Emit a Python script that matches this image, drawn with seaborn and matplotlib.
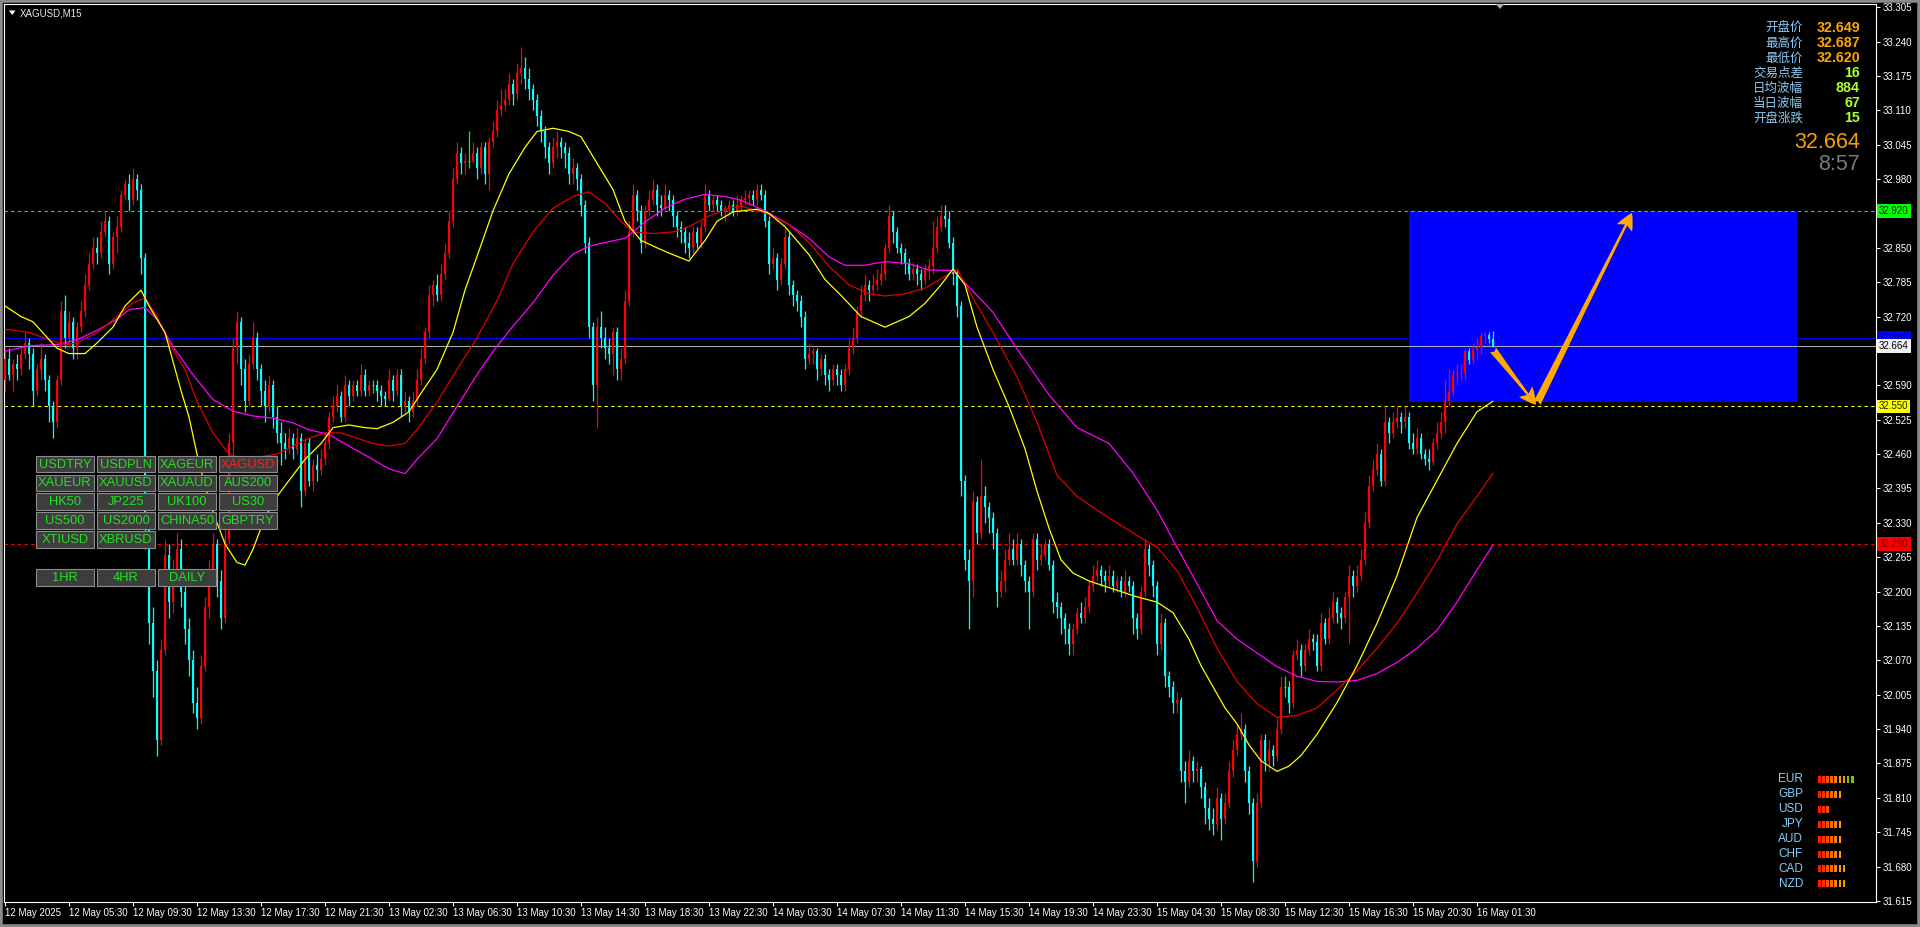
import numpy as np
import matplotlib
matplotlib.use("Agg")
import matplotlib.pyplot as plt
import seaborn as sns
from matplotlib.patches import Rectangle, Polygon
from matplotlib.transforms import blended_transform_factory

# ---------------- price data (XAGUSD, M15) ----------------
first_open = 32.60
closes = [
    32.64, 32.61, 32.63, 32.62, 32.65, 32.67, 32.65, 32.58, 32.62, 32.64,
    32.60, 32.55, 32.52, 32.60, 32.73, 32.68, 32.71, 32.66, 32.70, 32.73,
    32.78, 32.82, 32.85, 32.84, 32.88, 32.90, 32.82, 32.87, 32.89, 32.95,
    32.97, 32.94, 32.98, 32.96, 32.83, 32.32, 32.14, 32.05, 31.92, 32.09,
    32.27, 32.18, 32.24, 32.28, 32.20, 32.13, 32.07, 31.99, 31.96, 32.06,
    32.17, 32.24, 32.29, 32.22, 32.15, 32.30, 32.48, 32.66, 32.71, 32.62,
    32.56, 32.63, 32.68, 32.62, 32.58, 32.55, 32.59, 32.53, 32.50, 32.48,
    32.47, 32.49, 32.47, 32.49, 32.39, 32.48, 32.41, 32.44, 32.43, 32.45,
    32.48, 32.53, 32.55, 32.57, 32.53, 32.59, 32.57, 32.59, 32.58, 32.61,
    32.58, 32.59, 32.59, 32.58, 32.57, 32.565, 32.60, 32.58, 32.61, 32.55,
    32.56, 32.54, 32.56, 32.60, 32.64, 32.69, 32.76, 32.78, 32.76, 32.80,
    32.84, 32.90, 32.98, 33.03, 33.01, 33.015, 33.015, 33.03, 33.00, 33.04,
    32.99, 33.05, 33.07, 33.11, 33.12, 33.13, 33.16, 33.14, 33.18, 33.19,
    33.17, 33.15, 33.13, 33.10, 33.07, 33.04, 33.01, 33.04, 33.05, 33.04,
    33.03, 32.99, 33.00, 32.98, 32.93, 32.86, 32.70, 32.59, 32.70, 32.68,
    32.66, 32.65, 32.69, 32.62, 32.64, 32.75, 32.88, 32.95, 32.92, 32.86,
    32.92, 32.94, 32.96, 32.93, 32.925, 32.95, 32.94, 32.91, 32.89, 32.88,
    32.86, 32.85, 32.88, 32.86, 32.89, 32.95, 32.93, 32.94, 32.93, 32.92,
    32.925, 32.93, 32.92, 32.93, 32.94, 32.945, 32.95, 32.94, 32.96, 32.95,
    32.90, 32.82, 32.83, 32.79, 32.82, 32.87, 32.78, 32.76, 32.75, 32.72,
    32.64, 32.65, 32.655, 32.62, 32.64, 32.61, 32.60, 32.62, 32.61, 32.59,
    32.62, 32.66, 32.68, 32.73, 32.76, 32.78, 32.77, 32.78, 32.79, 32.80,
    32.85, 32.91, 32.88, 32.85, 32.84, 32.82, 32.80, 32.81, 32.80, 32.79,
    32.81, 32.815, 32.85, 32.89, 32.91, 32.905, 32.86, 32.80, 32.74, 32.41,
    32.26, 32.22, 32.37, 32.31, 32.38, 32.36, 32.34, 32.31, 32.20, 32.22,
    32.26, 32.28, 32.26, 32.29, 32.25, 32.22, 32.20, 32.30, 32.26, 32.27,
    32.29, 32.25, 32.18, 32.17, 32.15, 32.13, 32.10, 32.13, 32.16, 32.15,
    32.17, 32.21, 32.23, 32.24, 32.23, 32.22, 32.23, 32.21, 32.22, 32.20,
    32.22, 32.21, 32.15, 32.13, 32.20, 32.28, 32.25, 32.21, 32.10, 32.14,
    32.04, 32.02, 31.99, 31.995, 31.86, 31.84, 31.88, 31.86, 31.865, 31.83,
    31.79, 31.77, 31.76, 31.81, 31.77, 31.80, 31.86, 31.90, 31.93, 31.94,
    31.86, 31.80, 31.69, 31.80, 31.92, 31.88, 31.90, 31.89, 31.94, 32.02,
    32.02, 31.99, 32.08, 32.09, 32.06, 32.09, 32.11, 32.105, 32.06, 32.14,
    32.11, 32.15, 32.18, 32.16, 32.15, 32.19, 32.23, 32.21, 32.23, 32.26,
    32.33, 32.40, 32.43, 32.46, 32.41, 32.52, 32.50, 32.52, 32.53, 32.52,
    32.53, 32.48, 32.47, 32.49, 32.46, 32.45, 32.445, 32.48, 32.50, 32.52,
    32.56, 32.578, 32.61, 32.612, 32.614, 32.655, 32.638, 32.656, 32.663, 32.683,
    32.686, 32.677, 32.664,
]
highs = [
    32.66, 32.66, 32.64, 32.65, 32.66, 32.69, 32.68, 32.66, 32.63, 32.67,
    32.65, 32.61, 32.56, 32.61, 32.75, 32.76, 32.73, 32.72, 32.71, 32.75,
    32.80, 32.84, 32.87, 32.87, 32.90, 32.92, 32.91, 32.88, 32.91, 32.96,
    32.98, 32.99, 33.00, 32.99, 32.97, 32.84, 32.34, 32.17, 32.07, 32.11,
    32.30, 32.29, 32.26, 32.31, 32.30, 32.22, 32.15, 32.09, 32.02, 32.08,
    32.19, 32.26, 32.31, 32.30, 32.24, 32.32, 32.50, 32.68, 32.73, 32.72,
    32.64, 32.65, 32.71, 32.69, 32.63, 32.60, 32.61, 32.60, 32.55, 32.52,
    32.50, 32.51, 32.50, 32.51, 32.50, 32.49, 32.49, 32.45, 32.46, 32.47,
    32.50, 32.54, 32.57, 32.59, 32.58, 32.61, 32.60, 32.60, 32.60, 32.63,
    32.62, 32.60, 32.60, 32.60, 32.59, 32.58, 32.62, 32.61, 32.62, 32.62,
    32.58, 32.57, 32.58, 32.62, 32.66, 32.70, 32.78, 32.79, 32.80, 32.82,
    32.86, 32.92, 33.00, 33.05, 33.04, 33.03, 33.07, 33.05, 33.04, 33.05,
    33.05, 33.06, 33.09, 33.13, 33.15, 33.15, 33.18, 33.17, 33.20, 33.23,
    33.21, 33.19, 33.16, 33.14, 33.11, 33.08, 33.05, 33.06, 33.07, 33.06,
    33.05, 33.04, 33.02, 33.01, 32.99, 32.94, 32.87, 32.71, 32.72, 32.73,
    32.70, 32.68, 32.70, 32.70, 32.66, 32.77, 32.90, 32.97, 32.96, 32.93,
    32.93, 32.96, 32.98, 32.97, 32.95, 32.97, 32.96, 32.95, 32.92, 32.90,
    32.89, 32.88, 32.89, 32.89, 32.90, 32.97, 32.96, 32.95, 32.95, 32.94,
    32.93, 32.94, 32.94, 32.95, 32.95, 32.96, 32.96, 32.96, 32.97, 32.97,
    32.96, 32.91, 32.85, 32.84, 32.83, 32.89, 32.88, 32.79, 32.77, 32.76,
    32.73, 32.67, 32.66, 32.66, 32.65, 32.65, 32.62, 32.63, 32.63, 32.62,
    32.63, 32.68, 32.70, 32.74, 32.78, 32.80, 32.79, 32.80, 32.81, 32.82,
    32.86, 32.93, 32.92, 32.89, 32.86, 32.85, 32.83, 32.82, 32.82, 32.81,
    32.82, 32.83, 32.90, 32.91, 32.93, 32.93, 32.92, 32.87, 32.81, 32.75,
    32.42, 32.28, 32.39, 32.38, 32.45, 32.40, 32.37, 32.35, 32.32, 32.24,
    32.28, 32.31, 32.30, 32.31, 32.30, 32.26, 32.23, 32.31, 32.31, 32.29,
    32.30, 32.30, 32.26, 32.20, 32.18, 32.16, 32.14, 32.14, 32.17, 32.18,
    32.19, 32.22, 32.25, 32.26, 32.25, 32.24, 32.25, 32.24, 32.23, 32.23,
    32.24, 32.23, 32.22, 32.16, 32.21, 32.30, 32.29, 32.26, 32.22, 32.16,
    32.15, 32.05, 32.03, 32.01, 32.00, 31.88, 31.90, 31.89, 31.88, 31.87,
    31.84, 31.81, 31.79, 31.83, 31.82, 31.82, 31.88, 31.92, 31.95, 31.97,
    31.95, 31.87, 31.81, 31.82, 31.93, 31.93, 31.92, 31.91, 31.96, 32.04,
    32.04, 32.03, 32.09, 32.11, 32.10, 32.10, 32.13, 32.12, 32.12, 32.16,
    32.15, 32.17, 32.20, 32.19, 32.17, 32.20, 32.25, 32.24, 32.25, 32.28,
    32.35, 32.42, 32.45, 32.48, 32.47, 32.55, 32.53, 32.54, 32.55, 32.54,
    32.55, 32.54, 32.50, 32.51, 32.50, 32.47, 32.47, 32.49, 32.52, 32.54,
    32.60, 32.62, 32.62, 32.63, 32.63, 32.66, 32.66, 32.67, 32.68, 32.69,
    32.69, 32.69, 32.692,
]
lows = [
    32.58, 32.60, 32.58, 32.60, 32.61, 32.64, 32.62, 32.55, 32.57, 32.60,
    32.58, 32.52, 32.49, 32.51, 32.59, 32.66, 32.66, 32.64, 32.64, 32.69,
    32.72, 32.77, 32.81, 32.82, 32.83, 32.87, 32.80, 32.81, 32.84, 32.88,
    32.94, 32.92, 32.93, 32.94, 32.80, 32.28, 32.10, 32.00, 31.89, 31.91,
    32.08, 32.15, 32.16, 32.22, 32.17, 32.10, 32.04, 31.97, 31.94, 31.95,
    32.05, 32.15, 32.22, 32.19, 32.13, 32.14, 32.29, 32.46, 32.63, 32.59,
    32.54, 32.55, 32.62, 32.60, 32.55, 32.52, 32.54, 32.51, 32.48, 32.44,
    32.45, 32.46, 32.45, 32.46, 32.36, 32.38, 32.40, 32.39, 32.41, 32.42,
    32.44, 32.47, 32.52, 32.54, 32.52, 32.52, 32.55, 32.56, 32.57, 32.57,
    32.57, 32.57, 32.575, 32.56, 32.55, 32.55, 32.56, 32.56, 32.57, 32.53,
    32.54, 32.52, 32.53, 32.55, 32.59, 32.63, 32.68, 32.74, 32.75, 32.75,
    32.79, 32.83, 32.89, 32.97, 32.99, 32.99, 33.00, 33.01, 32.98, 32.99,
    32.97, 32.96, 33.04, 33.06, 33.10, 33.11, 33.12, 33.12, 33.13, 33.16,
    33.15, 33.13, 33.11, 33.08, 33.05, 33.02, 32.99, 33.00, 33.02, 33.02,
    33.00, 32.97, 32.97, 32.96, 32.91, 32.84, 32.68, 32.56, 32.51, 32.66,
    32.64, 32.63, 32.61, 32.60, 32.60, 32.63, 32.74, 32.87, 32.90, 32.84,
    32.85, 32.91, 32.93, 32.91, 32.91, 32.92, 32.92, 32.89, 32.87, 32.86,
    32.84, 32.83, 32.84, 32.85, 32.85, 32.88, 32.92, 32.92, 32.92, 32.91,
    32.90, 32.91, 32.91, 32.91, 32.92, 32.93, 32.93, 32.93, 32.93, 32.94,
    32.89, 32.80, 32.81, 32.77, 32.78, 32.81, 32.76, 32.74, 32.73, 32.70,
    32.62, 32.63, 32.63, 32.60, 32.61, 32.59, 32.58, 32.59, 32.59, 32.58,
    32.58, 32.61, 32.65, 32.67, 32.72, 32.75, 32.75, 32.76, 32.77, 32.78,
    32.79, 32.84, 32.86, 32.84, 32.82, 32.80, 32.79, 32.79, 32.78, 32.77,
    32.78, 32.79, 32.80, 32.84, 32.88, 32.89, 32.85, 32.78, 32.72, 32.38,
    32.24, 32.13, 32.19, 32.29, 32.30, 32.33, 32.31, 32.28, 32.17, 32.19,
    32.20, 32.25, 32.25, 32.25, 32.23, 32.20, 32.13, 32.19, 32.24, 32.25,
    32.26, 32.24, 32.16, 32.15, 32.12, 32.10, 32.08, 32.08, 32.12, 32.14,
    32.14, 32.16, 32.20, 32.22, 32.21, 32.20, 32.21, 32.20, 32.20, 32.19,
    32.19, 32.20, 32.12, 32.11, 32.12, 32.19, 32.23, 32.19, 32.08, 32.09,
    32.02, 32.00, 31.97, 31.97, 31.84, 31.80, 31.83, 31.84, 31.84, 31.81,
    31.76, 31.75, 31.74, 31.75, 31.73, 31.76, 31.79, 31.85, 31.89, 31.92,
    31.84, 31.78, 31.65, 31.68, 31.79, 31.86, 31.86, 31.87, 31.88, 31.93,
    32.00, 31.97, 31.98, 32.07, 32.04, 32.05, 32.08, 32.09, 32.05, 32.05,
    32.10, 32.10, 32.14, 32.14, 32.13, 32.14, 32.10, 32.19, 32.20, 32.22,
    32.25, 32.32, 32.39, 32.42, 32.40, 32.40, 32.48, 32.49, 32.51, 32.50,
    32.51, 32.47, 32.46, 32.46, 32.45, 32.44, 32.43, 32.44, 32.47, 32.49,
    32.50, 32.55, 32.57, 32.59, 32.60, 32.60, 32.63, 32.63, 32.64, 32.65,
    32.67, 32.67, 32.662,
]

# ---------------- moving averages (bar index, value) ----------------
ma_fast_bar = [0, 4, 7, 10, 13, 16, 20, 23, 27, 30, 34, 36, 40, 44, 46, 48, 50, 52, 55, 58,
               60, 62, 65, 68, 72, 75, 79, 82, 86, 90, 93, 97, 101, 104, 108, 112, 115, 119, 122, 126,
               130, 133, 137, 141, 144, 148, 152, 155, 159, 163, 166, 171, 175, 178, 182, 188, 191, 195, 201, 205,
               209, 214, 220, 226, 230, 234, 237, 240, 243, 247, 251, 255, 258, 261, 264, 267, 271, 277, 283, 288,
               292, 296, 299, 302, 305, 308, 311, 314, 318, 321, 324, 328, 333, 338, 343, 348, 353, 358, 363, 368, 372]
ma_fast_val = [32.74, 32.72, 32.71, 32.685, 32.66, 32.65, 32.65, 32.67, 32.70, 32.74,
               32.77, 32.74, 32.69, 32.58, 32.53, 32.46, 32.40, 32.35, 32.29, 32.255,
               32.25, 32.28, 32.34, 32.38, 32.42, 32.45, 32.48, 32.51, 32.515, 32.51,
               32.508, 32.52, 32.54, 32.575, 32.62, 32.69, 32.77, 32.855, 32.92, 32.99,
               33.04, 33.07, 33.076, 33.07, 33.06, 33.01, 32.96, 32.90, 32.864, 32.85,
               32.84, 32.825, 32.864, 32.90, 32.918, 32.923, 32.915, 32.89, 32.837, 32.79,
               32.76, 32.72, 32.70, 32.72, 32.745, 32.78, 32.81, 32.78, 32.70, 32.62,
               32.55, 32.47, 32.39, 32.32, 32.26, 32.235, 32.22, 32.205, 32.19, 32.18,
               32.16, 32.11, 32.06, 32.02, 31.98, 31.95, 31.91, 31.88, 31.86, 31.87,
               31.89, 31.93, 31.99, 32.06, 32.14, 32.23, 32.34, 32.41, 32.48, 32.54, 32.56]
ma_mid_bar = [0, 6, 11, 15, 18, 23, 28, 32, 35, 38, 41, 45, 48, 52, 56, 60, 64, 68, 72, 76,
              80, 84, 88, 92, 96, 100, 103, 108, 113, 118, 123, 127, 132, 137, 142, 146, 150, 154, 157, 162,
              167, 171, 176, 181, 184, 190, 196, 201, 206, 211, 216, 220, 225, 230, 235, 238, 242, 247, 253, 258,
              263, 268, 273, 278, 283, 288, 293, 298, 303, 308, 313, 318, 323, 328, 333, 338, 343, 348, 353, 358,
              363, 368, 372]
ma_mid_val = [32.696, 32.69, 32.676, 32.667, 32.67, 32.69, 32.72, 32.746, 32.755, 32.72,
              32.67, 32.62, 32.56, 32.50, 32.46, 32.45, 32.455, 32.46, 32.475, 32.49,
              32.50, 32.50, 32.49, 32.48, 32.475, 32.48, 32.506, 32.558, 32.62, 32.68,
              32.75, 32.82, 32.88, 32.925, 32.947, 32.956, 32.934, 32.90, 32.88, 32.877,
              32.88, 32.89, 32.91, 32.925, 32.929, 32.916, 32.894, 32.86, 32.815, 32.78,
              32.763, 32.759, 32.763, 32.774, 32.796, 32.81, 32.755, 32.69, 32.606, 32.52,
              32.42, 32.38, 32.354, 32.33, 32.306, 32.284, 32.24, 32.17, 32.093, 32.03,
              31.988, 31.962, 31.966, 31.98, 32.014, 32.05, 32.093, 32.14, 32.197, 32.258,
              32.328, 32.38, 32.424]
ma_slow_bar = [0, 6, 13, 18, 23, 28, 31, 35, 38, 42, 47, 52, 57, 62, 67, 72, 76, 81, 86, 91,
               96, 100, 103, 108, 113, 118, 122, 127, 132, 137, 142, 146, 150, 155, 160, 165, 170, 175, 180, 184,
               190, 196, 201, 206, 210, 215, 220, 226, 231, 237, 242, 247, 253, 261, 268, 276, 282, 288, 293, 298,
               303, 308, 313, 318, 323, 328, 333, 338, 343, 348, 353, 358, 363, 368, 372]
ma_slow_val = [32.654, 32.665, 32.667, 32.676, 32.694, 32.715, 32.733, 32.737, 32.715, 32.663,
               32.61, 32.563, 32.541, 32.532, 32.528, 32.519, 32.506, 32.497, 32.475, 32.454,
               32.432, 32.423, 32.45, 32.489, 32.55, 32.61, 32.654, 32.702, 32.746, 32.798,
               32.838, 32.853, 32.86, 32.868, 32.899, 32.925, 32.942, 32.951, 32.947, 32.94,
               32.92, 32.894, 32.868, 32.833, 32.817, 32.817, 32.824, 32.82, 32.808, 32.807,
               32.768, 32.728, 32.659, 32.572, 32.51, 32.48, 32.424, 32.354, 32.284, 32.215,
               32.145, 32.11, 32.084, 32.058, 32.04, 32.03, 32.029, 32.032, 32.045, 32.066,
               32.093, 32.127, 32.18, 32.241, 32.288]

# ---------------- axes text ----------------
time_labels = ["12 May 2025", "12 May 05:30", "12 May 09:30", "12 May 13:30", "12 May 17:30",
               "12 May 21:30", "13 May 02:30", "13 May 06:30", "13 May 10:30", "13 May 14:30",
               "13 May 18:30", "13 May 22:30", "14 May 03:30", "14 May 07:30", "14 May 11:30",
               "14 May 15:30", "14 May 19:30", "14 May 23:30", "15 May 04:30", "15 May 08:30",
               "15 May 12:30", "15 May 16:30", "15 May 20:30", "16 May 01:30"]
time_label_bars = [0, 16, 32, 48, 64, 80, 96, 112, 128, 144, 160, 176, 192, 208, 224,
                   240, 256, 272, 288, 304, 320, 336, 352, 368]
price_ticks = [31.615, 31.680, 31.745, 31.810, 31.875, 31.940, 32.005, 32.070, 32.135,
               32.200, 32.265, 32.330, 32.395, 32.460, 32.525, 32.590, 32.655, 32.720,
               32.785, 32.850, 32.915, 32.980, 33.045, 33.110, 33.175, 33.240, 33.305]

# horizontal levels
level_prices = [32.920, 32.680, 32.664, 32.550, 32.290]
level_colors = ["#00FF00", "#0000FF", "#A8A8A8", "#FFFF00", "#FF0000"]
level_dashed = [True, False, False, True, True]
level_box = ["#00FF00", "#0000FF", "#F0F0F0", "#FFFF00", "#FF0000"]
level_text = ["#003000", "#00007A", "#000000", "#202000", "#7A0000"]

# target zone and projected path
zone_bars = [351, 448]
zone_prices = [32.558, 32.920]
path_bars = [372, 382.75, 383, 406.75]
path_prices = [32.657, 32.553, 32.556, 32.916]

# info panel
info_labels = ["开盘价", "最高价", "最低价", "交易点差", "日均波幅", "当日波幅", "开盘涨跌"]
info_values = ["32.649", "32.687", "32.620", "16", "884", "67", "15"]
info_value_colors = ["#FFA500", "#FFA500", "#FFA500", "#ADFF2F", "#ADFF2F", "#ADFF2F", "#ADFF2F"]
last_price = "32.664"
countdown = "8:57"

# currency strength meter
currencies = ["EUR", "GBP", "USD", "JPY", "AUD", "CHF", "CAD", "NZD"]
strength = [9, 6, 3, 6, 6, 6, 7, 7]
strength_colors = ["#FF1A00", "#FF3000", "#FF4C00", "#FF6600", "#FF7E00",
                   "#FF9A00", "#DDA000", "#A8B000", "#78C000"]

# symbol buttons
button_rows = [["USDTRY", "USDPLN", "XAGEUR", "XAGUSD"],
               ["XAUEUR", "XAUUSD", "XAUAUD", "AUS200"],
               ["HK50", "JP225", "UK100", "US30"],
               ["US500", "US2000", "CHINA50", "GBPTRY"],
               ["XTIUSD", "XBRUSD"],
               [],
               ["1HR", "4HR", "DAILY"]]
active_symbol = "XAGUSD"

# ---------------- figure ----------------
sns.set_theme(style="dark")
plt.rcParams["font.family"] = ["Liberation Sans", "Noto Sans CJK SC", "DejaVu Sans"]

W, H = 1920, 927
fig = plt.figure(figsize=(W / 100, H / 100), dpi=100, facecolor="black")


def fx(px):
    return px / W


def fy(py):
    return 1 - py / H


ax = fig.add_axes([fx(4), fy(902), fx(1876) - fx(4), fy(4) - fy(902)])
ax.set_facecolor("black")
ax.grid(False)

n = len(closes)
idx = np.arange(n)
c = np.array(closes)
o = np.concatenate([[first_open], c[:-1]])
hi = np.maximum(np.array(highs), np.maximum(o, c))
lo = np.minimum(np.array(lows), np.minimum(o, c))

BULL, BEAR, DOJI = "#FF0000", "#00FFFF", "#00FF00"
up = c > o
dn = c < o
dj = c == o

# zone
ax.add_patch(Rectangle((zone_bars[0], zone_prices[0]), zone_bars[1] - zone_bars[0],
                       zone_prices[1] - zone_prices[0], fc="#0000FF", ec="none", zorder=1))

# horizontal levels with their price tags on the scale
trans = blended_transform_factory(ax.transAxes, ax.transData)
for p, col, dash, bc, tc in zip(level_prices, level_colors, level_dashed, level_box, level_text):
    ax.axhline(p, color=col, lw=0.8, ls=(0, (3, 3)) if dash else "-", zorder=2)
    ax.text(1.0 + 3 / 1872, p, f"{p:.3f}", transform=trans, ha="left", va="center",
            fontsize=7, color=tc, clip_on=False, zorder=10,
            bbox=dict(boxstyle="square,pad=0.2", fc=bc, ec="none"))

# candles
body_w = 0.7
for mask, col in ((up, BULL), (dn, BEAR)):
    ax.vlines(idx[mask], lo[mask], hi[mask], color=col, lw=0.9, zorder=3)
    ax.bar(idx[mask], np.abs(c - o)[mask], bottom=np.minimum(o, c)[mask], width=body_w,
           color=col, linewidth=0, zorder=3)
ax.vlines(idx[dj], lo[dj], hi[dj], color=DOJI, lw=0.9, zorder=3)
ax.hlines(c[dj], idx[dj] - body_w / 2, idx[dj] + body_w / 2, color=DOJI, lw=0.9, zorder=3)

# moving averages
sns.lineplot(x=ma_slow_bar, y=ma_slow_val, color="#FF00FF", lw=0.9, ax=ax,
             estimator=None, sort=False, zorder=4)
sns.lineplot(x=ma_mid_bar, y=ma_mid_val, color="#E00000", lw=0.9, ax=ax,
             estimator=None, sort=False, zorder=4)
sns.lineplot(x=ma_fast_bar, y=ma_fast_val, color="#FFFF00", lw=0.9, ax=ax,
             estimator=None, sort=False, zorder=4)

# projected path arrows
arrow_style = "fancy,head_length=0.55,head_width=0.55,tail_width=0.25"
for k in (0, 2):
    ax.annotate("", xy=(path_bars[k + 1], path_prices[k + 1]),
                xytext=(path_bars[k], path_prices[k]),
                arrowprops=dict(arrowstyle=arrow_style, color="#FFAA00", lw=0,
                                shrinkA=0, shrinkB=0, mutation_scale=22),
                zorder=6)

# axes cosmetics; scale labels sitting under a level tag are left blank
ax.set_xlim(-0.25, 467.75)
ax.set_ylim(31.613, 33.311)
ax.yaxis.tick_right()
ax.set_yticks(price_ticks)
tick_text = []
for v in price_ticks:
    covered = any(abs(v - p) < 0.012 for p in level_prices)
    tick_text.append("" if covered else f"{v:.3f}")
ax.set_yticklabels(tick_text)
ax.set_xticks(time_label_bars)
ax.set_xticklabels(time_labels)
for lab in ax.get_xticklabels():
    lab.set_horizontalalignment("left")
ax.tick_params(axis="y", which="both", right=True, left=False, colors="white",
               labelcolor="white", length=3, width=0.8, pad=2, labelsize=7)
ax.tick_params(axis="x", which="both", bottom=True, colors="white",
               labelcolor="white", length=3, width=0.8, pad=1, labelsize=7)
ax.set_xlabel("")
ax.set_ylabel("")
for s in ax.spines.values():
    s.set_color("white")
    s.set_linewidth(0.8)
    s.set_visible(True)

# title
fig.text(fx(20), fy(13), "XAGUSD,M15", color="#E8E8E8", fontsize=7, ha="left", va="center")
fig.add_artist(Polygon([[fx(9), fy(10.5)], [fx(15.5), fy(10.5)], [fx(12.25), fy(15)]],
                       closed=True, transform=fig.transFigure, fc="white", ec="none"))
# chart shift marker
fig.add_artist(Polygon([[fx(1496), fy(4)], [fx(1504), fy(4)], [fx(1500), fy(9)]],
                       closed=True, transform=fig.transFigure, fc="#B0B0B0", ec="none"))

# info panel
for i, (lab, val, vc) in enumerate(zip(info_labels, info_values, info_value_colors)):
    yy = 28 + 15 * i
    fig.text(fx(1803), fy(yy), lab, ha="right", va="center", fontsize=9,
             color="#8EC8EE", family=["Noto Sans CJK SC", "DejaVu Sans"])
    fig.text(fx(1860), fy(yy), val, ha="right", va="center", fontsize=10.3,
             fontweight="bold", color=vc)
fig.text(fx(1860), fy(143), last_price, ha="right", va="center", fontsize=15.5, color="#F5A000")
fig.text(fx(1860), fy(164), countdown, ha="right", va="center", fontsize=15.5, color="#7A7A7A")

# currency strength meter
for i, (cur, s) in enumerate(zip(currencies, strength)):
    yy = 779.5 + 14.9 * i
    fig.text(fx(1803), fy(yy), cur, ha="right", va="center", fontsize=8.5, color="#87CEFA")
    for k in range(s):
        x0 = 1818 + 4.1 * k
        fig.add_artist(Rectangle((fx(x0), fy(yy + 3.5)), fx(2.7), 7 / H,
                                 transform=fig.transFigure, fc=strength_colors[k], ec="none"))

# buttons
col_x = [35.7, 96.7, 157.7, 218.7]
bw, bh = 58.5, 16.7
for r, row in enumerate(button_rows):
    top = 455.7 + 18.9 * r
    for j, name in enumerate(row):
        x0 = col_x[j]
        fig.add_artist(Rectangle((fx(x0), fy(top + bh)), fx(bw), bh / H,
                                 transform=fig.transFigure, fc="#3D3D3D", ec="#8C8C8C",
                                 lw=0.8, zorder=20))
        fig.text(fx(x0 + bw / 2), fy(top + bh / 2 + 0.5), name, ha="center", va="center",
                 fontsize=9.3, color="#FF2020" if name == active_symbol else "#22E022",
                 zorder=21)

# window frame
fig.add_artist(Rectangle((0, 0), 1, 1, transform=fig.transFigure, fill=False,
                         ec="#8A8A8A", lw=4))

fig.savefig("out.png", dpi=100, facecolor="black")
